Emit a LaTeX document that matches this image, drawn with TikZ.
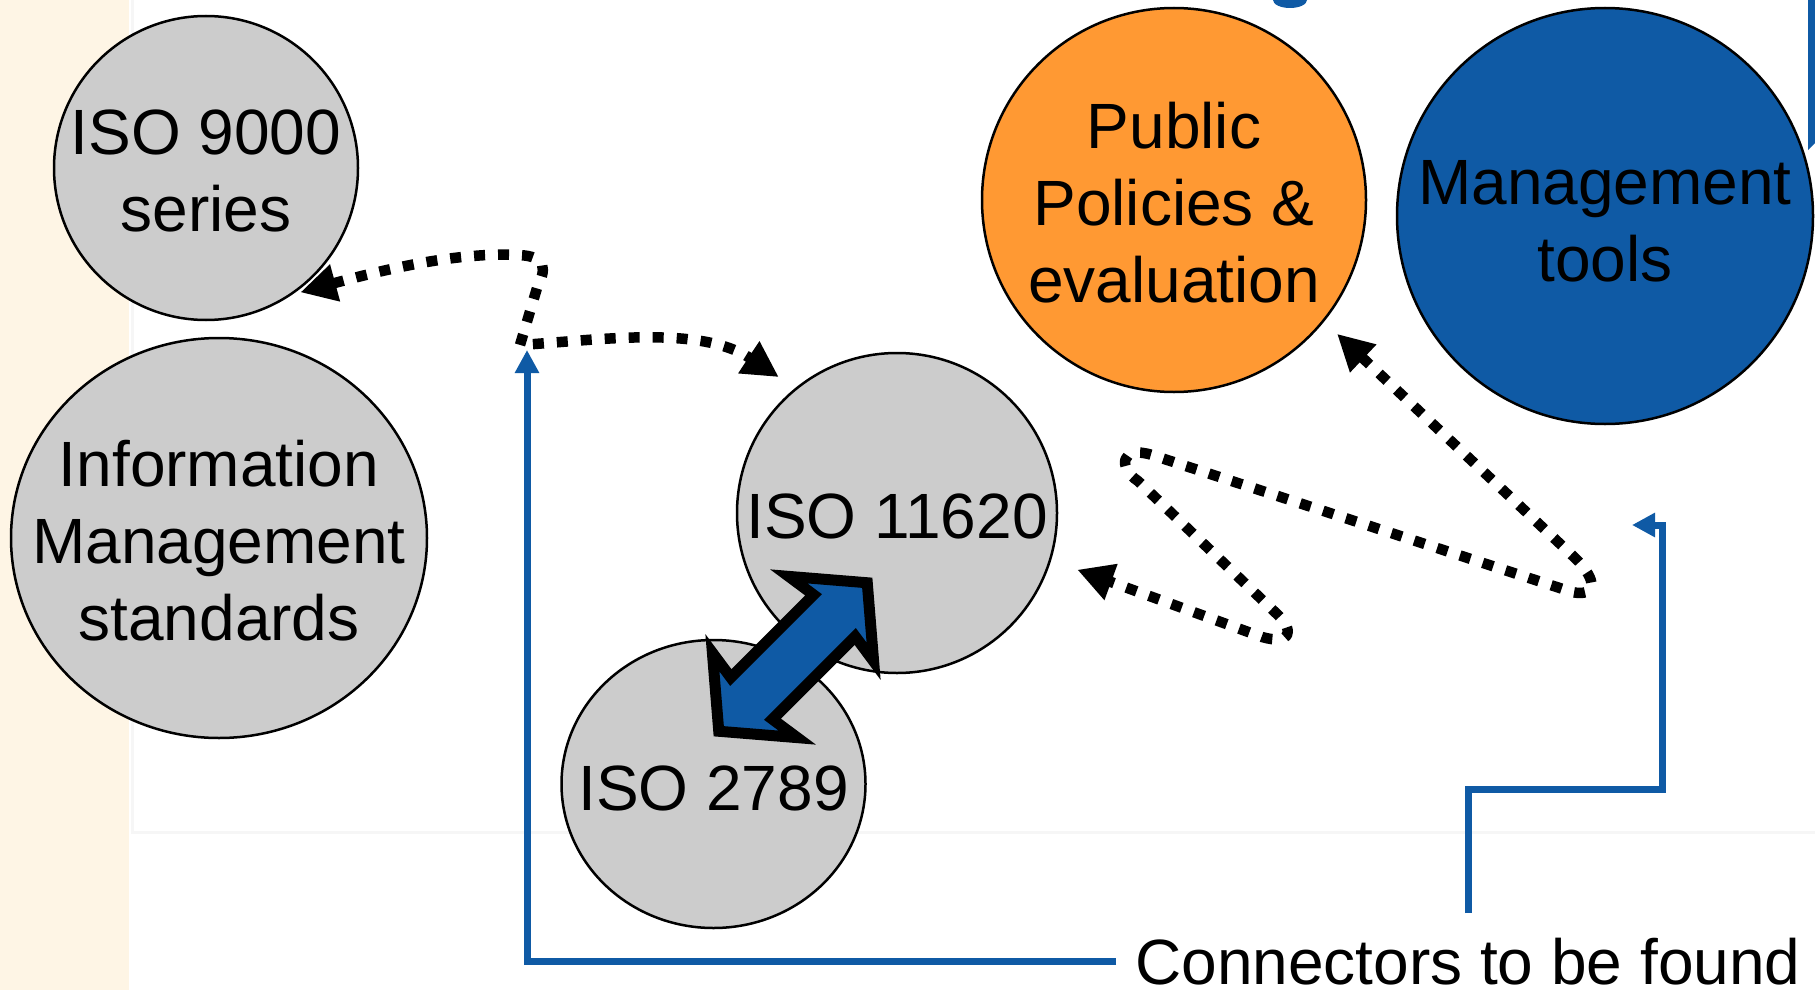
\documentclass[tikz,border=0pt]{standalone}
\usepackage{fontspec}
\setmainfont{Liberation Sans}
\usetikzlibrary{arrows.meta,shapes.geometric,calc}
\definecolor{cream}{RGB}{254,245,229}
\definecolor{iblue}{RGB}{15,90,165}
\definecolor{iorange}{RGB}{255,153,51}
\definecolor{igray}{RGB}{204,204,204}
\definecolor{paneledge}{RGB}{246,246,246}

\begin{document}
\begin{tikzpicture}[x=1pt,y=-1pt,
  bubble/.style={ellipse, draw=black, line width=2.5pt, inner sep=0pt, outer sep=0pt},
  lbl/.style={align=center, inner sep=0pt, text=black, font=\fontsize{64}{77}\selectfont},
  dotcon/.style={line width=10.5pt, dash pattern=on 11pt off 13pt, line join=round,
    {Triangle[length=36pt,width=36pt]}-{Triangle[length=36pt,width=36pt]}},
  bluecon/.style={draw=iblue, line width=7pt, line join=miter,
    -{Triangle[length=23pt,width=23pt]}},
  bigarrow/.style={fill=iblue, draw=black, line width=11pt, line join=miter, miter limit=10},
]
\useasboundingbox (0,0) rectangle (1815,990);
\clip (0,0) rectangle (1815,990);

% page background and side strip
\fill[white] (0,0) rectangle (1815,990);
\fill[cream] (0,0) rectangle (129,990);
\draw[paneledge, line width=3pt] (132,0) -- (132,832) -- (1815,832);

% fragments cut by the top and right edges
\fill[iblue] (1290,0) ellipse (17pt and 8pt);
\fill[iblue] (1808,0) -- (1815,0) -- (1815,143) -- (1808,150) -- cycle;

% bubbles
\node[bubble, fill=igray,   minimum width=304pt, minimum height=304pt] (i9000)  at (206,168) {};
\node[bubble, fill=igray,   minimum width=416pt, minimum height=400pt] (ims)    at (219,538) {};
\node[bubble, fill=igray,   minimum width=320pt, minimum height=320pt] (i11620) at (897,513) {};
\node[bubble, fill=igray,   minimum width=304pt, minimum height=288pt] (i2789)  at (713.5,784) {};
\node[bubble, fill=iorange, minimum width=384pt, minimum height=384pt] (ppe)    at (1174,200) {};
\node[bubble, fill=iblue,   minimum width=416pt, minimum height=416pt] (mt)     at (1605,216) {};

% bubble texts
\node[lbl] (t9000)  at (206,171)   {ISO 9000\\series};
\node[lbl] (tims)   at (219,541)   {Information\\Management\\standards};
\node[lbl] (t11620) at (897,516)   {ISO 11620};
\node[lbl] (t2789)  at (713.5,788) {ISO 2789};
\node[lbl] (tppe)   at (1174,203)  {Public\\Policies \&\\evaluation};
\node[lbl] (tmt)    at (1605,221)  {Management\\tools};
\node[lbl, anchor=base west] (conn) at (1135,984) {Connectors to be found};

% blue pointers from the caption
\coordinate (kink) at (527,350);
\coordinate (c2a)  at (1468,913);
\coordinate (c2tip) at (1632,525);
\draw[bluecon, shorten <=19pt] (conn.west) -| (kink);
\draw[bluecon] (c2a) |- (1662,789) |- (c2tip);

% dotted two-way links
\draw[dotcon, shorten <=12pt, shorten >=21pt]
  (i9000.-57) .. controls (390,268) and (460,252) .. (518,255)
  .. controls (548,256) and (546,270) .. (537,288) -- (520,345)
  .. controls (600,340) and (700,325) .. (i11620.129);
\draw[dotcon, shorten <=19pt, shorten >=29pt]
  (ppe.-39) -- (1574,557) .. controls (1600,582) and (1595,597) .. (1572,592)
  -- (1152,455) .. controls (1120,445) and (1118,468) .. (1138,481)
  -- (1278,615) .. controls (1295,632) and (1290,645) .. (1262,637)
  -- (i11620.-17);

% thick double arrow between ISO 11620 and ISO 2789
\begin{scope}[shift={(793,657)}, rotate=45]
  \filldraw[bigarrow] (105,0) -- (54,60) -- (58.5,29.5) -- (-58.5,29.5) -- (-54,60)
    -- (-105,0) -- (-54,-60) -- (-58.5,-29.5) -- (58.5,-29.5) -- (54,-60) -- cycle;
\end{scope}
\end{tikzpicture}
\end{document}
